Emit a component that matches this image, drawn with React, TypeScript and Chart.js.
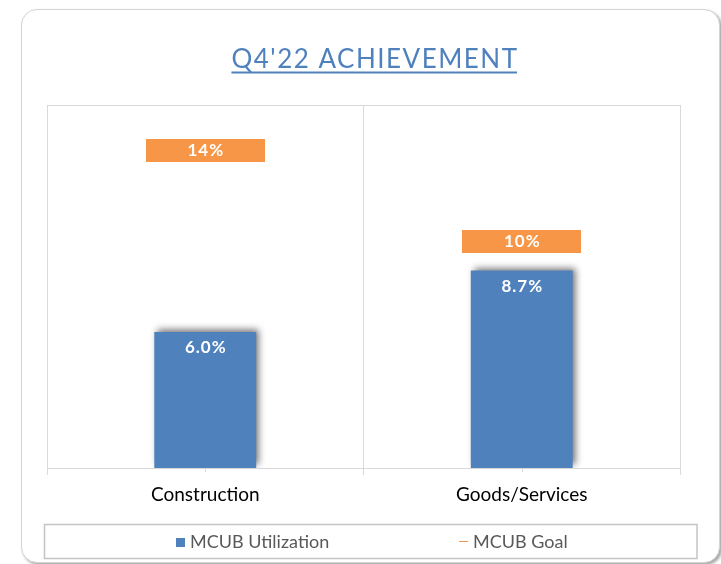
import { useEffect, useRef } from 'react';
import { Chart, registerables } from 'chart.js';

Chart.register(...registerables);

// ---- data ----
const categories = ['Construction', 'Goods/Services'];
const utilization = [6.0, 8.7];
const goal = [14, 10];
const seriesNames = ['MCUB Utilization', 'MCUB Goal'];
const titleText = "Q4'22 ACHIEVEMENT";
const yMin = 0;
const yMax = 16;

// ---- styles ----
const BLUE = '#4F81BD';
const ORANGE = '#F79646';
const GRID = '#d9d9d9';
const FONT = 'Lato, "Open Sans", sans-serif';

function makeGoalBox(): HTMLCanvasElement {
  const c = document.createElement('canvas');
  c.width = 119;
  c.height = 23;
  const g = c.getContext('2d')!;
  g.fillStyle = ORANGE;
  g.fillRect(0, 0, 119, 23);
  return c;
}

const shadowPlugin = {
  id: 'barShadow',
  beforeDatasetDraw(chart: any, args: any) {
    if (args.meta.type !== 'bar') return;
    const ctx = chart.ctx;
    ctx.save();
    ctx.shadowColor = 'rgba(0,0,0,0.55)';
    ctx.shadowBlur = 7;
    ctx.shadowOffsetX = 3;
    ctx.shadowOffsetY = -3;
  },
  afterDatasetDraw(chart: any, args: any) {
    if (args.meta.type !== 'bar') return;
    chart.ctx.restore();
  },
};

const decorPlugin = {
  id: 'decor',
  beforeDatasetsDraw(chart: any) {
    const { ctx, chartArea: a } = chart;
    ctx.save();
    ctx.strokeStyle = GRID;
    ctx.lineWidth = 1;
    const l = Math.round(a.left) + 0.5;
    const t = Math.round(a.top) + 0.5;
    const r = Math.round(a.right) + 0.5;
    ctx.beginPath();
    ctx.moveTo(l, a.bottom);
    ctx.lineTo(l, t);
    ctx.lineTo(r, t);
    ctx.lineTo(r, a.bottom);
    ctx.stroke();
    // small centre ticks
    const xs = chart.scales.x;
    categories.forEach((_, i) => {
      const x = Math.round(xs.getPixelForValue(i)) + 0.5;
      ctx.beginPath();
      ctx.moveTo(x, a.bottom);
      ctx.lineTo(x, a.bottom + 4);
      ctx.stroke();
    });
    ctx.restore();
  },
  afterDatasetsDraw(chart: any) {
    const ctx = chart.ctx;
    ctx.save();
    ctx.fillStyle = '#ffffff';
    ctx.textAlign = 'center';
    ctx.textBaseline = 'middle';
    ctx.font = `bold 17px ${FONT}`;
    (ctx as any).letterSpacing = '1px';
    const barMeta = chart.getDatasetMeta(0);
    barMeta.data.forEach((el: any, i: number) => {
      ctx.fillText(utilization[i].toFixed(1) + '%', el.x + 0.5, el.y + 15.5);
    });
    const goalMeta = chart.getDatasetMeta(1);
    goalMeta.data.forEach((el: any, i: number) => {
      ctx.fillText(goal[i].toFixed(0) + '%', el.x + 0.5, el.y + 0.5);
    });
    ctx.restore();
  },
  afterDraw(chart: any) {
    const ctx = chart.ctx;
    ctx.save();
    // title
    ctx.font = `26px ${FONT}`;
    (ctx as any).letterSpacing = '1.5px';
    ctx.fillStyle = BLUE;
    ctx.textAlign = 'center';
    ctx.textBaseline = 'alphabetic';
    const cx = 375;
    ctx.fillText(titleText, cx, 68);
    const w = ctx.measureText(titleText).width - 1.5;
    ctx.fillRect(cx - 0.75 - w / 2, 71.5, w, 2);
    (ctx as any).letterSpacing = '0px';

    // legend box
    ctx.strokeStyle = '#c4c4c4';
    ctx.lineWidth = 1.5;
    ctx.strokeRect(44.5, 524.5, 652.5, 34);
    ctx.font = `18px ${FONT}`;
    ctx.fillStyle = '#595959';
    ctx.textAlign = 'left';
    ctx.textBaseline = 'middle';
    const ly = 542;
    // item 1: square
    ctx.fillStyle = BLUE;
    ctx.fillRect(176, 538, 9, 9);
    ctx.fillStyle = '#595959';
    ctx.fillText(seriesNames[0], 190, ly);
    // item 2: short line
    ctx.strokeStyle = ORANGE;
    ctx.lineWidth = 1;
    ctx.beginPath();
    ctx.moveTo(459, 541.5);
    ctx.lineTo(468, 541.5);
    ctx.stroke();
    ctx.fillText(seriesNames[1], 473, ly);
    ctx.restore();
  },
};

export default function App() {
  const ref = useRef<HTMLCanvasElement>(null);

  useEffect(() => {
    if (!ref.current) return;
    const chart = new Chart(ref.current, {
      type: 'bar',
      data: {
        labels: categories,
        datasets: [
          {
            type: 'bar',
            label: seriesNames[0],
            data: utilization,
            backgroundColor: BLUE,
            borderWidth: 0,
            barPercentage: 0.322,
            categoryPercentage: 1,
            order: 1,
          },
          {
            type: 'line',
            label: seriesNames[1],
            data: goal,
            showLine: false,
            pointStyle: makeGoalBox() as any,
            pointRadius: 12,
            pointHoverRadius: 12,
            borderColor: ORANGE,
            backgroundColor: ORANGE,
            order: 0,
          },
        ],
      },
      options: {
        responsive: false,
        animation: false,
        events: [],
        layout: { padding: { left: 47, right: 41, top: 105, bottom: 0 } },
        plugins: {
          legend: { display: false },
          title: { display: false },
          tooltip: { enabled: false },
        },
        scales: {
          x: {
            offset: true,
            grid: { offset: true, color: GRID, tickLength: 7, drawOnChartArea: true },
            border: { color: GRID },
            ticks: { color: '#000000', font: { family: FONT, size: 19 }, padding: 8 },
            afterFit: (s: any) => {
              s.height = 96;
            },
          },
          y: {
            display: false,
            min: yMin,
            max: yMax,
          },
        },
      },
      plugins: [shadowPlugin, decorPlugin],
    });
    return () => chart.destroy();
  }, []);

  return (
    <div style={{ position: 'absolute', left: 0, top: 0, width: 721, height: 564, background: '#ffffff', overflow: 'hidden' }}>
      <div
        style={{
          position: 'absolute',
          left: 21,
          top: 9,
          width: 699,
          height: 554,
          boxSizing: 'border-box',
          border: '1px solid #d4d4d4',
          borderRadius: 16,
          boxShadow: '2px 2px 3px rgba(0,0,0,0.35)',
          background: '#ffffff',
        }}
      />
      <canvas ref={ref} width={721} height={564} style={{ position: 'absolute', left: 0, top: 0 }} />
    </div>
  );
}
